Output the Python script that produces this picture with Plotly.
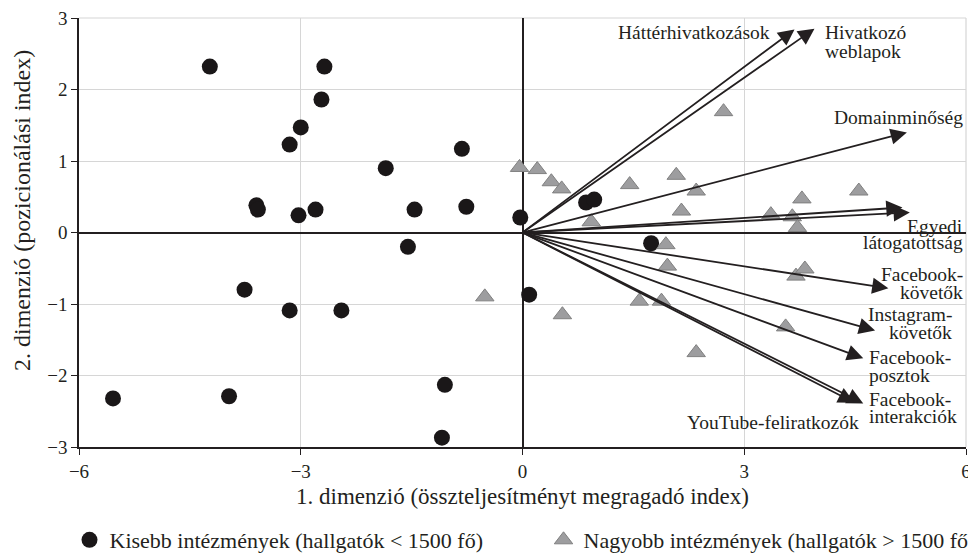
import plotly.graph_objects as go

# ---- data ----
small_x = [-4.23, -2.68, -2.72, -3.00, -3.15, -0.82, -1.85, -3.60, -3.58, -3.03, -2.80,
           -1.46, -0.76, -0.03, 0.86, 0.97, -1.55, -3.76, -3.15, -2.45, -5.54, -3.97,
           -1.05, -1.09, 0.09, 1.74]
small_y = [2.32, 2.32, 1.86, 1.47, 1.23, 1.17, 0.90, 0.38, 0.32, 0.24, 0.32,
           0.32, 0.36, 0.21, 0.42, 0.46, -0.20, -0.80, -1.09, -1.09, -2.32, -2.29,
           -2.13, -2.87, -0.87, -0.15]

large_x = [-0.04, 0.20, 0.39, 0.53, 1.45, 2.08, 2.35, 2.72, 0.93, 2.15, 3.36, 3.78,
           3.65, 3.72, 4.55, 1.94, 1.96, 3.70, 3.82, 1.58, 1.88, 0.54, 3.56, 2.35, -0.51]
large_y = [0.91, 0.88, 0.71, 0.61, 0.67, 0.80, 0.58, 1.69, 0.15, 0.30, 0.25, 0.47,
           0.22, 0.07, 0.58, -0.17, -0.47, -0.61, -0.51, -0.96, -0.96, -1.15, -1.32, -1.68, -0.90]

vec_names = ["Háttérhivatkozások", "Hivatkozó weblapok", "Domainminőség", "Látogatottság",
             "Egyedi látogatottság", "Facebook-követők", "Instagram-követők",
             "Facebook-posztok", "Facebook-interakciók", "YouTube-feliratkozók"]
vec_x = [3.68, 3.95, 5.20, 5.14, 5.24, 4.95, 4.77, 4.61, 4.61, 4.49]
vec_y = [2.84, 2.85, 1.40, 0.35, 0.28, -0.78, -1.37, -1.76, -2.39, -2.38]

# label lines (one entry per printed line)
label_lines = ["Háttérhivatkozások", "Hivatkozó", "weblapok", "Domainminőség", "Látogatottság",
               "Egyedi", "látogatottság", "Facebook-", "követők", "Instagram-", "követők",
               "Facebook-", "posztok", "Facebook-", "interakciók", "YouTube-feliratkozók"]
label_x = [3.38, 4.07, 4.07, 5.98, 6.02, 5.98, 5.98, 5.98, 5.98, 5.84, 5.84,
           4.66, 4.66, 4.66, 4.66, 4.58]
label_y = [2.80, 2.80, 2.53, 1.61, 0.72, 0.08, -0.14, -0.59, -0.84, -1.15, -1.40,
           -1.75, -2.00, -2.34, -2.57, -2.66]
label_anchor = ["right", "left", "left", "right", "right", "right", "right", "right", "right",
                "right", "right", "left", "left", "left", "left", "right"]

x_ticks = [-6, -3, 0, 3, 6]
y_ticks = [-3, -2, -1, 0, 1, 2, 3]

FONT = "Liberation Serif"
INK = "#231f20"


def fmt(v):
    return ("\u2212" + str(-v)) if v < 0 else str(v)


fig = go.Figure()
fig.add_trace(go.Scatter(
    x=small_x, y=small_y, mode="markers",
    name="Kisebb intézmények (hallgatók < 1500 fő)", legend="legend",
    marker=dict(symbol="circle", size=16, color="#1a1718", line=dict(width=0)),
))
fig.add_trace(go.Scatter(
    x=large_x, y=large_y, mode="markers",
    name="Nagyobb intézmények (hallgatók > 1500 fő)", legend="legend2",
    marker=dict(symbol="triangle-up", size=16, color="#9d9d9f",
                line=dict(width=1, color="#808080")),
))

annotations = []
for vx, vy in zip(vec_x, vec_y):
    annotations.append(dict(
        x=vx, y=vy, ax=0, ay=0, xref="x", yref="y", axref="x", ayref="y",
        showarrow=True, arrowhead=2, arrowsize=1.8, arrowwidth=1.8,
        arrowcolor=INK, standoff=0, text="",
    ))
for t, lx, ly, anc in zip(label_lines, label_x, label_y, label_anchor):
    annotations.append(dict(
        x=lx, y=ly, xref="x", yref="y", text=t, showarrow=False,
        xanchor=anc, yanchor="middle", align=anc,
        font=dict(family=FONT, size=19.5, color=INK),
    ))
annotations.append(dict(
    x=(22 - 79) / 887, y=(447 - 211) / 429, xref="paper", yref="paper",
    xanchor="center", yanchor="middle",
    text="2. dimenzió (pozicionálási index)", textangle=-90, showarrow=False,
    font=dict(family=FONT, size=24, color=INK),
))

legend_font = dict(family=FONT, size=22, color=INK)
# page body has an 8px default margin: size/margins compensate for it
fig.update_layout(
    width=968, height=549,
    margin=dict(l=71, r=10, t=10, b=110, autoexpand=False),
    paper_bgcolor="white", plot_bgcolor="white",
    font=dict(family=FONT, size=18, color=INK),
    showlegend=True,
    legend=dict(x=-0.0107, y=-0.2168, xanchor="left", yanchor="middle",
                font=legend_font, bgcolor="rgba(0,0,0,0)"),
    legend2=dict(x=0.5237, y=-0.2168, xanchor="left", yanchor="middle",
                 font=legend_font, bgcolor="rgba(0,0,0,0)"),
    annotations=annotations,
)
fig.update_xaxes(
    range=[-6, 6], tickvals=x_ticks, ticktext=[fmt(v) for v in x_ticks],
    showgrid=True, gridcolor="#d6d6d6", gridwidth=1.2,
    zeroline=True, zerolinecolor=INK, zerolinewidth=1.5,
    showline=True, linecolor=INK, linewidth=1.5,
    ticks="outside", ticklen=6, tickcolor=INK, tickwidth=1.2,
    ticklabeloverflow="allow",
    tickfont=dict(family=FONT, size=19, color=INK),
    title=dict(text="1. dimenzió (összteljesítményt megragadó index)",
               font=dict(family=FONT, size=23, color=INK), standoff=7),
)
fig.update_yaxes(
    range=[-3, 3], tickvals=y_ticks, ticktext=[fmt(v) for v in y_ticks],
    showgrid=True, gridcolor="#d6d6d6", gridwidth=1.2,
    zeroline=True, zerolinecolor=INK, zerolinewidth=1.5,
    showline=True, linecolor=INK, linewidth=1.5,
    ticks="outside", ticklen=6, tickcolor=INK, tickwidth=1.2,
    ticklabeloverflow="allow",
    tickfont=dict(family=FONT, size=19, color=INK),
)
fig.add_shape(type="line", xref="paper", yref="paper", x0=0, x1=1, y0=1, y1=1,
              line=dict(color="#d6d6d6", width=1.2), layer="below")
fig.add_shape(type="line", xref="paper", yref="paper", x0=1, x1=1, y0=0, y1=1,
              line=dict(color="#d6d6d6", width=1.2), layer="below")

fig.write_html("out.html")
